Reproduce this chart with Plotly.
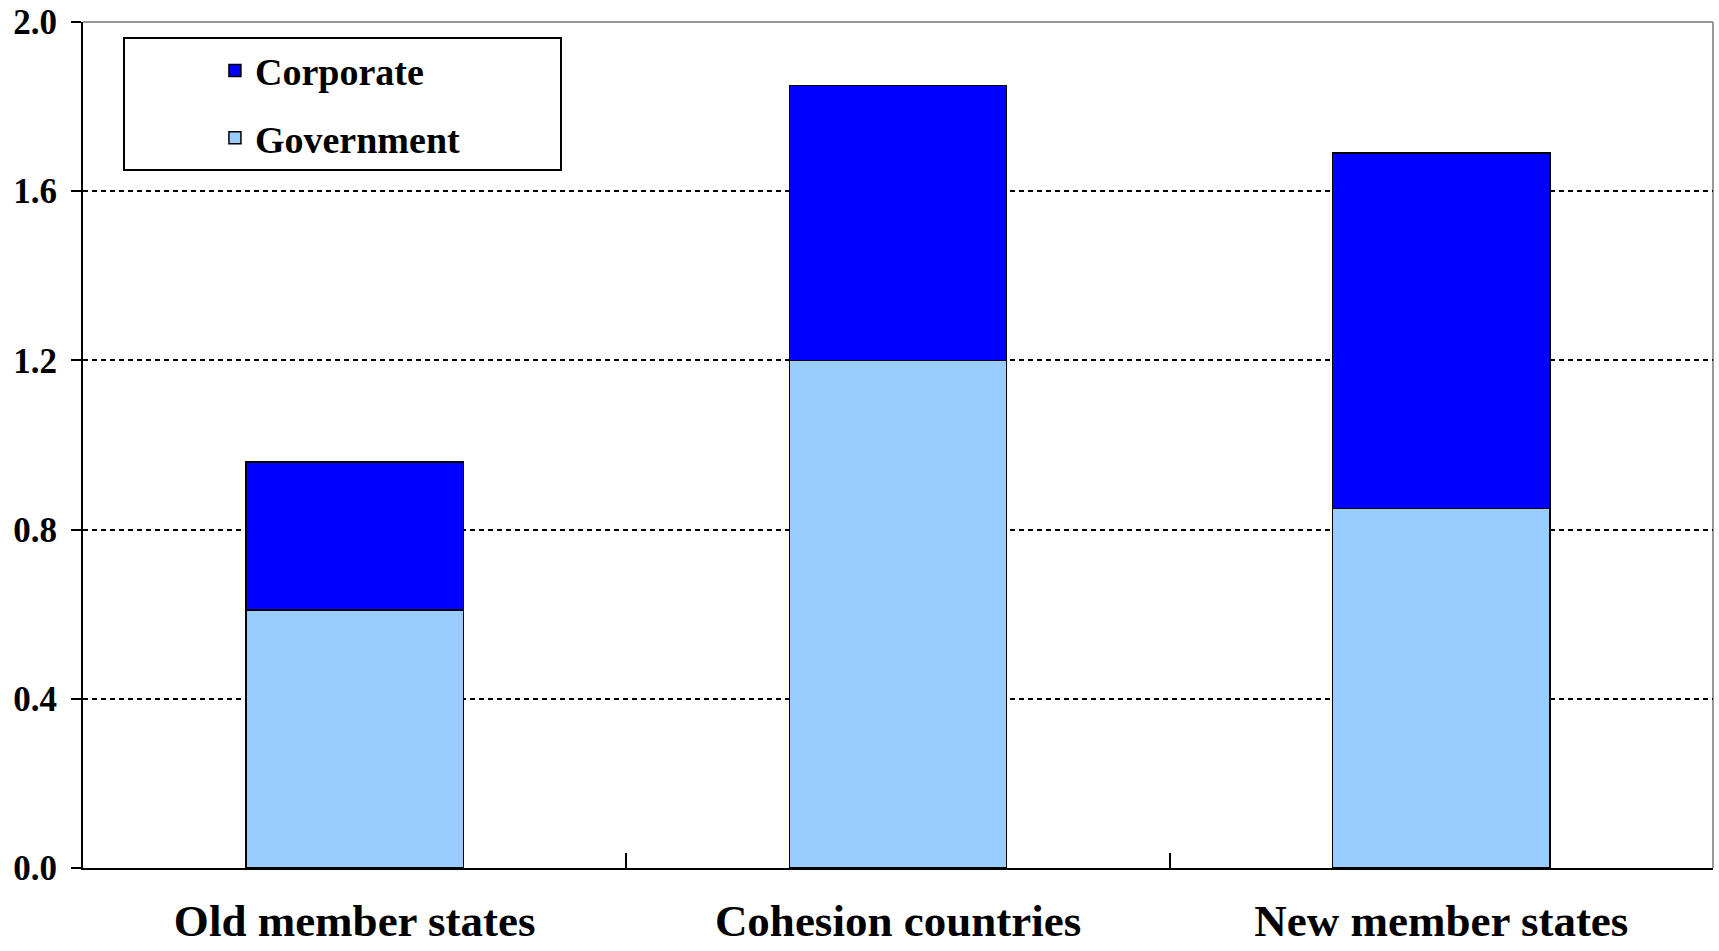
import plotly.graph_objects as go

categories = ["Old member states", "Cohesion countries", "New member states"]
government = [0.61, 1.20, 0.85]
corporate = [0.35, 0.65, 0.84]
y_ticks = [0.0, 0.4, 0.8, 1.2, 1.6, 2.0]
y_tick_labels = ["0.0", "0.4", "0.8", "1.2", "1.6", "2.0"]

FONT = "Liberation Serif"
PAD = "\u00a0" * 10

fig = go.Figure()
fig.add_trace(go.Bar(
    x=categories, y=government, name="Government" + PAD, legendgroup="g", legendrank=2,
    marker=dict(color="#99CCFF", line=dict(color="#000000", width=1.5)),
))
fig.add_trace(go.Bar(
    x=categories, y=corporate, name="Corporate", legendgroup="c", legendrank=1,
    marker=dict(color="#0000FF", line=dict(color="#000000", width=1.5)),
))

# top and right frame (grey)
fig.add_shape(type="line", xref="paper", yref="paper", x0=0, x1=1, y0=1, y1=1,
              line=dict(color="#999999", width=2), layer="below")
fig.add_shape(type="line", xref="paper", yref="paper", x0=1, x1=1, y0=0, y1=1,
              line=dict(color="#999999", width=2), layer="below")

fig.update_layout(
    width=1719, height=951,
    margin=dict(l=83, r=6, t=22, b=83),
    paper_bgcolor="white", plot_bgcolor="white",
    barmode="stack", bargap=0.6,
    font=dict(family=FONT, color="black", weight="bold"),
    showlegend=True,
    legend=dict(
        x=0.0245, y=0.982, xanchor="left", yanchor="top",
        bordercolor="black", borderwidth=2, bgcolor="white",
        font=dict(family=FONT, size=38, color="black", weight="bold"),
        traceorder="grouped", tracegroupgap=15,
        indentation=90,
    ),
    xaxis=dict(
        type="category", range=[-0.5, 2.5], automargin=False,
        showline=True, linecolor="black", linewidth=2,
        ticks="inside", ticklen=15, tickwidth=1.5, tickcolor="black",
        tickson="boundaries", showgrid=False,
        tickfont=dict(family=FONT, size=45, color="black", weight="bold"),
        ticklabelstandoff=12,
    ),
    yaxis=dict(
        range=[0, 2.0], tickvals=y_ticks, ticktext=y_tick_labels, automargin=False,
        showline=True, linecolor="black", linewidth=2,
        ticks="outside", ticklen=10, tickwidth=2, tickcolor="black",
        showgrid=True, gridcolor="black", gridwidth=2, griddash="5px,4px",
        zeroline=False,
        tickfont=dict(family=FONT, size=35, color="black", weight="bold"),
        ticklabelstandoff=7,
    ),
)

fig.write_html("out.html")
